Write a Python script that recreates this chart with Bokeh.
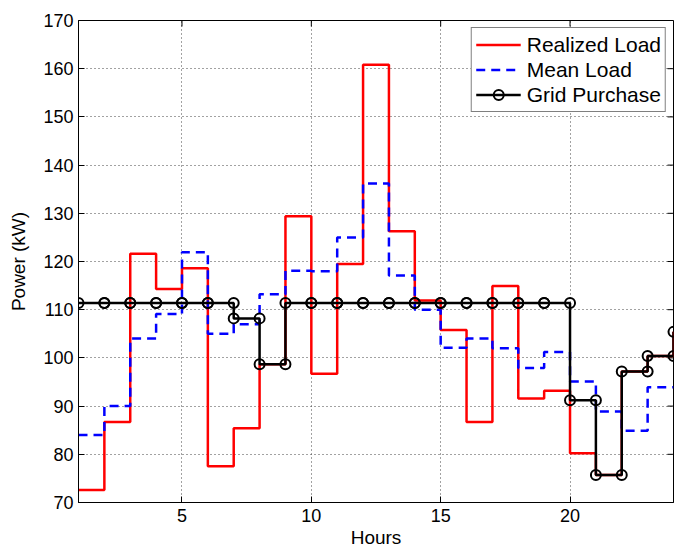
from bokeh.plotting import figure
from bokeh.models import Range1d, FixedTicker, Legend, LegendItem
from bokeh.embed import file_html
from bokeh.resources import INLINE
import math

hours = list(range(1, 25))
realized_load = [72.6, 86.7, 121.6, 114.3, 118.6, 77.5, 85.4, 98.7, 129.4, 96.7,
                 119.5, 160.8, 126.3, 111.9, 105.8, 86.7, 114.9, 91.6, 93.2, 80.2,
                 75.7, 97.2, 100.4, 105.4]
mean_load = [84, 90, 104, 109.1, 121.9, 105, 107, 113.2, 118.1, 118,
             125, 136.2, 117.1, 110, 102.1, 104, 102, 97.9, 101.2, 95.1,
             88.9, 84.9, 93.9, 93.9]
grid_purchase = [111.4, 111.4, 111.4, 111.4, 111.4, 111.4, 108.2, 98.7, 111.4, 111.4,
                 111.4, 111.4, 111.4, 111.4, 111.4, 111.4, 111.4, 111.4, 111.4, 91.2,
                 75.7, 97.2, 100.4, 105.4]
x_ticks = [5, 10, 15, 20]
y_ticks = [70, 80, 90, 100, 110, 120, 130, 140, 150, 160, 170]
x_lim = (1, 24)
y_lim = (70, 170)

FONT = "Liberation Sans"

p = figure(width=675, height=552, output_backend="svg", toolbar_location=None,
           x_range=Range1d(*x_lim), y_range=Range1d(*y_lim),
           min_border_left=78, min_border_right=2, min_border_top=20, min_border_bottom=50)
p.background_fill_color = "white"
p.border_fill_color = "white"
p.outline_line_color = "black"
p.outline_line_width = 1

p.xgrid.ticker = FixedTicker(ticks=x_ticks)
p.ygrid.ticker = FixedTicker(ticks=y_ticks)
p.grid.grid_line_color = "#444444"
p.grid.grid_line_dash = "1 3"
p.grid.grid_line_width = 1

# box ticks on top and right edges (half of each dash is clipped by the frame)
p.scatter(x_ticks, [y_lim[1]] * len(x_ticks), marker="dash", angle=math.pi / 2,
          size=12, line_color="black", line_width=1)
p.scatter([x_lim[1]] * len(y_ticks), y_ticks, marker="dash",
          size=12, line_color="black", line_width=1)

# stairs vertices for markers
vx, vy = [hours[0]], [grid_purchase[0]]
for i in range(1, len(hours)):
    vx += [hours[i], hours[i]]
    vy += [grid_purchase[i - 1], grid_purchase[i]]

r1 = p.step(hours, realized_load, mode="after", line_color="red", line_width=2.5)
r2 = p.step(hours, mean_load, mode="after", line_color="blue", line_width=2.5, line_dash="9 6")
r3 = p.step(hours, grid_purchase, mode="after", line_color="black", line_width=2.5)
r4 = p.scatter(vx, vy, marker="circle", size=10, line_color="black", line_width=2,
               fill_color=None)

for ax in (p.xaxis[0], p.yaxis[0]):
    ax.major_tick_in = 6
    ax.major_tick_out = 0
    ax.minor_tick_in = 0
    ax.minor_tick_out = 0
    ax.axis_line_color = "black"
    ax.major_tick_line_color = "black"
    ax.major_label_text_font = FONT
    ax.major_label_text_font_size = "18px"
    ax.major_label_text_color = "black"
    ax.axis_label_text_font = FONT
    ax.axis_label_text_font_size = "19px"
    ax.axis_label_text_font_style = "normal"
    ax.axis_label_text_color = "black"

p.xaxis.ticker = FixedTicker(ticks=x_ticks)
p.yaxis.ticker = FixedTicker(ticks=y_ticks)
p.xaxis.axis_label = "Hours"
p.yaxis.axis_label = "Power (kW)"
p.xaxis.major_label_standoff = 6
p.xaxis.axis_label_standoff = 2
p.yaxis.major_label_standoff = 5
p.yaxis.axis_label_standoff = 11

legend = Legend(items=[
    LegendItem(label="Realized Load", renderers=[r1]),
    LegendItem(label="Mean Load", renderers=[r2]),
    LegendItem(label="Grid Purchase", renderers=[r3, r4]),
], location="top_right")
legend.label_text_font = FONT
legend.label_text_font_size = "21px"
legend.label_text_color = "black"
legend.glyph_width = 45
legend.glyph_height = 25
legend.label_height = 25
legend.spacing = 0
legend.padding = 4
legend.margin = 7
legend.label_standoff = 6
legend.border_line_color = "black"
legend.border_line_width = 1
legend.background_fill_alpha = 1
p.add_layout(legend)

open("out.html", "w").write(file_html(p, INLINE))
